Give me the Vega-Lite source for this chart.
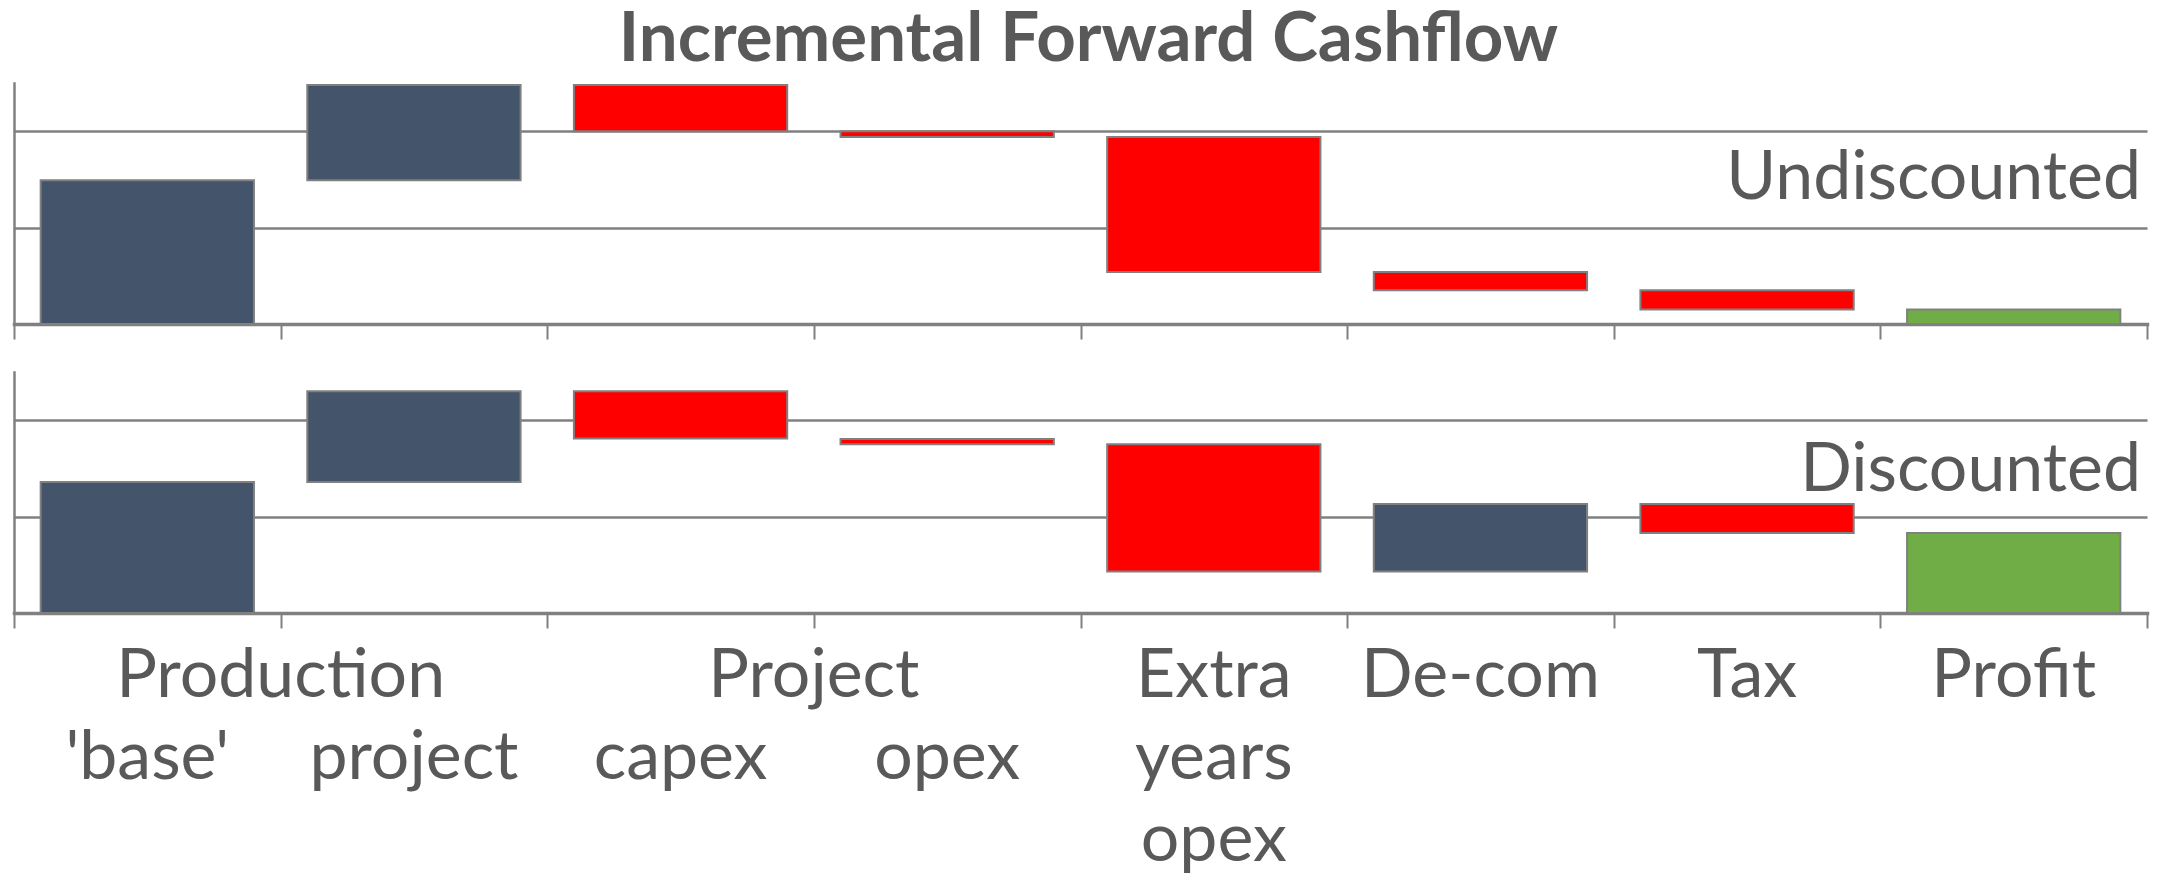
{
  "$schema": "https://vega.github.io/schema/vega-lite/v6.json",
  "autosize": {"type": "pad"},
  "padding": {"left": 13, "top": 6, "right": 5, "bottom": 5},
  "background": "white",
  "bounds": "flush",
  "spacing": 48,
  "title": {
    "text": "Incremental Forward Cashflow",
    "font": "Lato",
    "fontSize": 69,
    "fontWeight": "bold",
    "color": "#595959",
    "anchor": "middle",
    "baseline": "alphabetic",
    "offset": -47,
    "dx": 8
  },
  "datasets": {
    "bars": [
      {"panel": "Undiscounted", "cat": "Production 'base'", "start": 0, "end": 1.49, "kind": "up"},
      {"panel": "Undiscounted", "cat": "Production project", "start": 1.49, "end": 2.48, "kind": "up"},
      {"panel": "Undiscounted", "cat": "Project capex", "start": 2.48, "end": 2.0, "kind": "down"},
      {"panel": "Undiscounted", "cat": "Project opex", "start": 2.0, "end": 1.94, "kind": "down"},
      {"panel": "Undiscounted", "cat": "Extra years opex", "start": 1.94, "end": 0.54, "kind": "down"},
      {"panel": "Undiscounted", "cat": "De-com", "start": 0.54, "end": 0.35, "kind": "down"},
      {"panel": "Undiscounted", "cat": "Tax", "start": 0.35, "end": 0.15, "kind": "down"},
      {"panel": "Undiscounted", "cat": "Profit", "start": 0, "end": 0.15, "kind": "total"},
      {"panel": "Discounted", "cat": "Production 'base'", "start": 0, "end": 1.36, "kind": "up"},
      {"panel": "Discounted", "cat": "Production project", "start": 1.36, "end": 2.3, "kind": "up"},
      {"panel": "Discounted", "cat": "Project capex", "start": 2.3, "end": 1.81, "kind": "down"},
      {"panel": "Discounted", "cat": "Project opex", "start": 1.805, "end": 1.75, "kind": "down"},
      {"panel": "Discounted", "cat": "Extra years opex", "start": 1.75, "end": 0.43, "kind": "down"},
      {"panel": "Discounted", "cat": "De-com", "start": 0.43, "end": 1.13, "kind": "up"},
      {"panel": "Discounted", "cat": "Tax", "start": 1.13, "end": 0.83, "kind": "down"},
      {"panel": "Discounted", "cat": "Profit", "start": 0, "end": 0.83, "kind": "total"}
    ],
    "groupLabels": [
      {"group": "Production", "line": 1},
      {"group": "Project", "line": 1}
    ],
    "itemLabels": [
      {"cat": "Production 'base'", "text": "'base'", "line": 2},
      {"cat": "Production project", "text": "project", "line": 2},
      {"cat": "Project capex", "text": "capex", "line": 2},
      {"cat": "Project opex", "text": "opex", "line": 2},
      {"cat": "Extra years opex", "text": "Extra", "line": 1},
      {"cat": "Extra years opex", "text": "years", "line": 2},
      {"cat": "Extra years opex", "text": "opex", "line": 3},
      {"cat": "De-com", "text": "De-com", "line": 1},
      {"cat": "Tax", "text": "Tax", "line": 1},
      {"cat": "Profit", "text": "Profit", "line": 1}
    ]
  },
  "resolve": {"scale": {"x": "independent", "y": "independent"}},
  "vconcat": [
    {
      "width": 2133,
      "height": 241,
      "layer": [
        {
          "data": {"name": "bars"},
          "transform": [{"filter": "datum.panel === 'Undiscounted'"}],
          "mark": {"type": "bar", "width": {"band": 0.8}, "stroke": "#808080", "strokeWidth": 2},
          "encoding": {
            "x": {
              "field": "cat", "type": "nominal",
              "scale": {"domain": ["Production 'base'", "Production project", "Project capex", "Project opex", "Extra years opex", "De-com", "Tax", "Profit"], "paddingInner": 0, "paddingOuter": 0},
              "axis": {"labels": false, "title": null, "ticks": true, "tickBand": "extent", "tickSize": 15, "tickWidth": 2, "tickColor": "#808080", "domainColor": "#808080", "domainWidth": 3.5, "grid": false}
            },
            "y": {
              "field": "start", "type": "quantitative",
              "scale": {"domain": [0, 2.5], "nice": false, "zero": true},
              "axis": {"values": [1, 2], "grid": true, "gridColor": "#808080", "gridWidth": 2.5, "ticks": false, "labels": false, "title": null, "domainColor": "#808080", "domainWidth": 2.5}
            },
            "y2": {"field": "end"},
            "color": {
              "field": "kind", "type": "nominal",
              "scale": {"domain": ["up", "down", "total"], "range": ["#44546A", "#FF0000", "#70AD47"]},
              "legend": null
            }
          }
        },
        {
          "data": {"values": [{"label": "Undiscounted"}]},
          "mark": {"type": "text", "align": "right", "baseline": "alphabetic", "font": "Lato", "fontSize": 68, "color": "#595959", "dx": -6},
          "encoding": {
            "x": {"value": "width"},
            "y": {"datum": 1.3},
            "text": {"field": "label"}
          }
        }
      ]
    },
    {
      "width": 2133,
      "height": 241,
      "layer": [
        {
          "data": {"name": "bars"},
          "transform": [{"filter": "datum.panel === 'Discounted'"}],
          "mark": {"type": "bar", "width": {"band": 0.8}, "stroke": "#808080", "strokeWidth": 2},
          "encoding": {
            "x": {
              "field": "cat", "type": "nominal",
              "scale": {"domain": ["Production 'base'", "Production project", "Project capex", "Project opex", "Extra years opex", "De-com", "Tax", "Profit"], "paddingInner": 0, "paddingOuter": 0},
              "axis": {"labels": false, "title": null, "ticks": true, "tickBand": "extent", "tickSize": 15, "tickWidth": 2, "tickColor": "#808080", "domainColor": "#808080", "domainWidth": 3.5, "grid": false}
            },
            "y": {
              "field": "start", "type": "quantitative",
              "scale": {"domain": [0, 2.5], "nice": false, "zero": true},
              "axis": {"values": [1, 2], "grid": true, "gridColor": "#808080", "gridWidth": 2.5, "ticks": false, "labels": false, "title": null, "domainColor": "#808080", "domainWidth": 2.5}
            },
            "y2": {"field": "end"},
            "color": {
              "field": "kind", "type": "nominal",
              "scale": {"domain": ["up", "down", "total"], "range": ["#44546A", "#FF0000", "#70AD47"]},
              "legend": null
            }
          }
        },
        {
          "data": {"values": [{"label": "Discounted"}]},
          "mark": {"type": "text", "align": "right", "baseline": "alphabetic", "font": "Lato", "fontSize": 68, "color": "#595959", "dx": -6},
          "encoding": {
            "x": {"value": "width"},
            "y": {"datum": 1.27},
            "text": {"field": "label"}
          }
        }
      ]
    },
    {
      "width": 2133,
      "height": 220,
      "resolve": {"scale": {"x": "independent"}},
      "layer": [
        {
          "data": {"name": "groupLabels"},
          "mark": {"type": "text", "align": "center", "baseline": "alphabetic", "font": "Lato", "fontSize": 68, "color": "#595959"},
          "encoding": {
            "x": {
              "field": "group", "type": "nominal",
              "scale": {"domain": ["Production", "Project", "Extra years opex / De-com", "Tax / Profit"], "paddingInner": 0, "paddingOuter": 0},
              "axis": null
            },
            "y": {"field": "line", "type": "quantitative", "scale": {"domain": [1, 3], "range": [36, 200]}, "axis": null},
            "text": {"field": "group"}
          }
        },
        {
          "data": {"name": "itemLabels"},
          "mark": {"type": "text", "align": "center", "baseline": "alphabetic", "font": "Lato", "fontSize": 68, "color": "#595959"},
          "encoding": {
            "x": {
              "field": "cat", "type": "nominal",
              "scale": {"domain": ["Production 'base'", "Production project", "Project capex", "Project opex", "Extra years opex", "De-com", "Tax", "Profit"], "paddingInner": 0, "paddingOuter": 0},
              "axis": null
            },
            "y": {"field": "line", "type": "quantitative", "scale": {"domain": [1, 3], "range": [36, 200]}, "axis": null},
            "text": {"field": "text"}
          }
        }
      ]
    }
  ],
  "config": {
    "view": {"stroke": null},
    "axis": {"domainCap": "square"}
  }
}
